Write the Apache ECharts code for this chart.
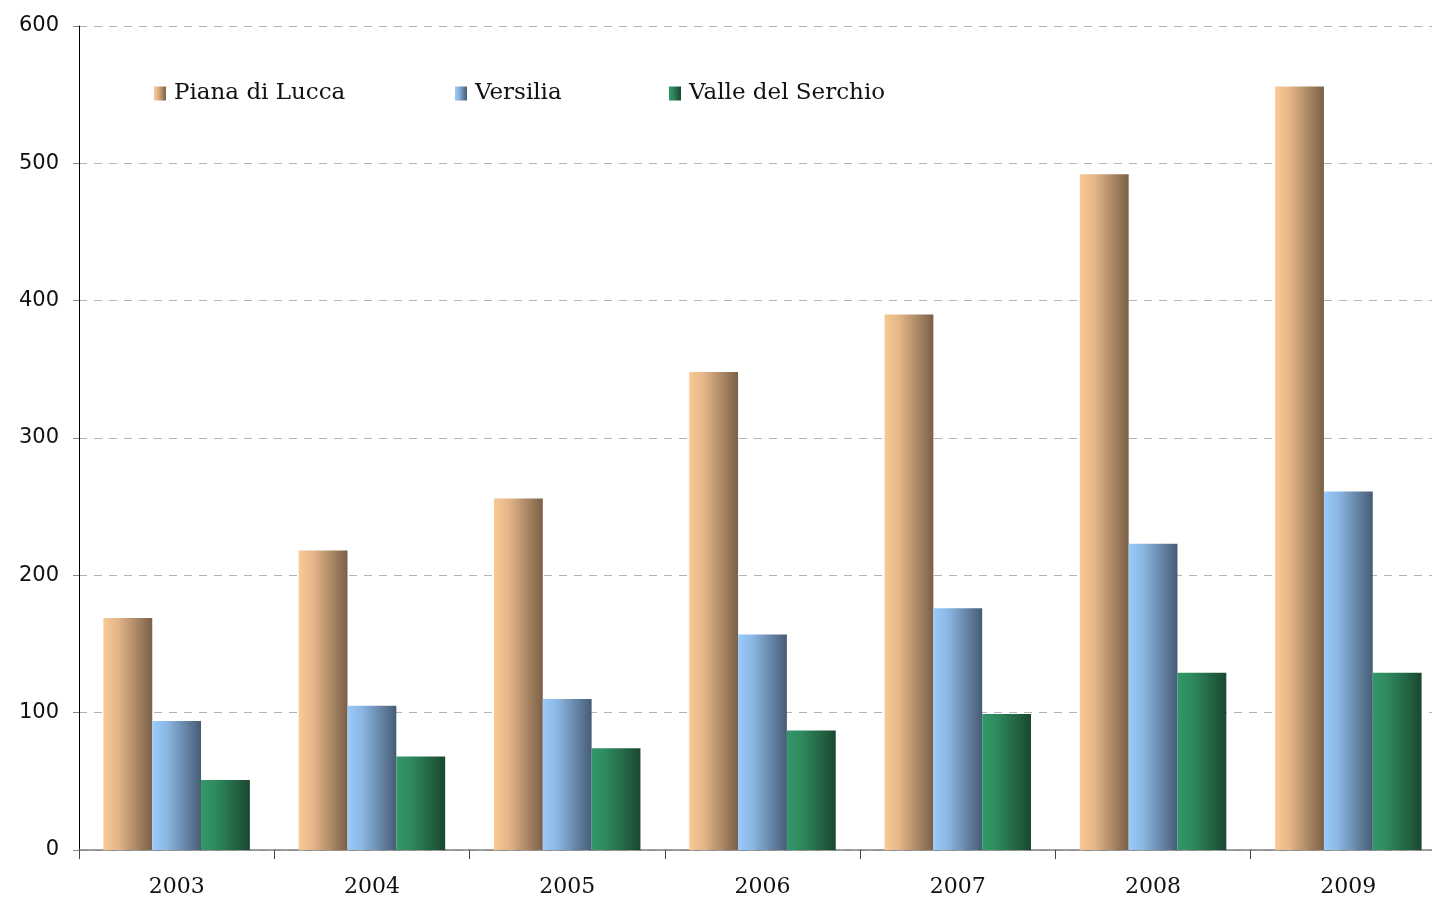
<!DOCTYPE html>
<html>
<head>
<meta charset="utf-8">
<script src="https://cdn.jsdelivr.net/npm/echarts@6/dist/echarts.min.js"></script>
<style>
  html, body { margin: 0; padding: 0; background: #fff; }
  #chart { width: 1432px; height: 899px; }
</style>
</head>
<body>
<div id="chart"></div>
<script>
"use strict";

// data
var years = ["2003", "2004", "2005", "2006", "2007", "2008", "2009"];
var seriesNames = ["Piana di Lucca", "Versilia", "Valle del Serchio"];
var piana = [169, 218, 256, 348, 390, 492, 556];
var versilia = [94, 105, 110, 157, 176, 223, 261];
var valle = [51, 68, 74, 87, 99, 129, 129];
var yTicks = [0, 100, 200, 300, 400, 500, 600];

(function (echarts) {
    var chart = echarts.init(document.getElementById("chart"));

    // horizontal shading, light on the left, dark on the right
    function shade(from, mid, to) {
        return new echarts.graphic.LinearGradient(0, 0, 1, 0, [
            {offset: 0, color: from},
            {offset: 0.3, color: mid},
            {offset: 1, color: to}
        ]);
    }

    var colors = [
        shade("#f9c994", "#e4b688", "#7a5f47"),
        shade("#9acbfb", "#8bb6e2", "#465c75"),
        shade("#339769", "#2e8a5d", "#1a4730")
    ];

    var serifFont = "'DejaVu Serif', 'Liberation Serif', serif";

    function legendAt(name, left) {
        return {
            data: [name],
            left: left,
            top: 77,
            itemWidth: 12,
            itemHeight: 14,
            itemGap: 8,
            icon: "rect",
            textStyle: {
                fontFamily: serifFont,
                fontSize: 23,
                color: "#111",
                padding: [0, 0, 0, 3]
            }
        };
    }

    var option = {
        animation: false,
        backgroundColor: "#fff",
        color: colors,
        legend: [
            legendAt(seriesNames[0], 149),
            legendAt(seriesNames[1], 450),
            legendAt(seriesNames[2], 664)
        ],
        grid: {
            left: 79,
            top: 26,
            bottom: 49,
            width: 1367,
            containLabel: false,
            outerBoundsMode: "none"
        },
        xAxis: {
            type: "category",
            data: years,
            axisLine: {lineStyle: {color: "#7f7f7f", width: 1.5}},
            axisTick: {
                show: true,
                length: 9,
                inside: false,
                lineStyle: {color: "#444"}
            },
            axisLabel: {
                margin: 26,
                fontFamily: serifFont,
                fontSize: 22,
                color: "#111"
            }
        },
        yAxis: {
            type: "value",
            min: yTicks[0],
            max: yTicks[yTicks.length - 1],
            interval: 100,
            axisLine: {show: true, lineStyle: {color: "#000", width: 1}},
            axisTick: {show: true, length: 6, lineStyle: {color: "#888"}},
            axisLabel: {
                margin: 20,
                fontFamily: "'DejaVu Sans', sans-serif",
                fontSize: 21,
                color: "#111"
            },
            splitLine: {
                show: true,
                lineStyle: {color: "#b4b4b4", type: [8, 7], width: 1}
            }
        },
        series: [
            {name: seriesNames[0], type: "bar", data: piana, barGap: "0%", barCategoryGap: "25%"},
            {name: seriesNames[1], type: "bar", data: versilia, barGap: "0%", barCategoryGap: "25%"},
            {name: seriesNames[2], type: "bar", data: valle, barGap: "0%", barCategoryGap: "25%"}
        ]
    };

    chart.setOption(option);
}(echarts));
</script>
</body>
</html>
